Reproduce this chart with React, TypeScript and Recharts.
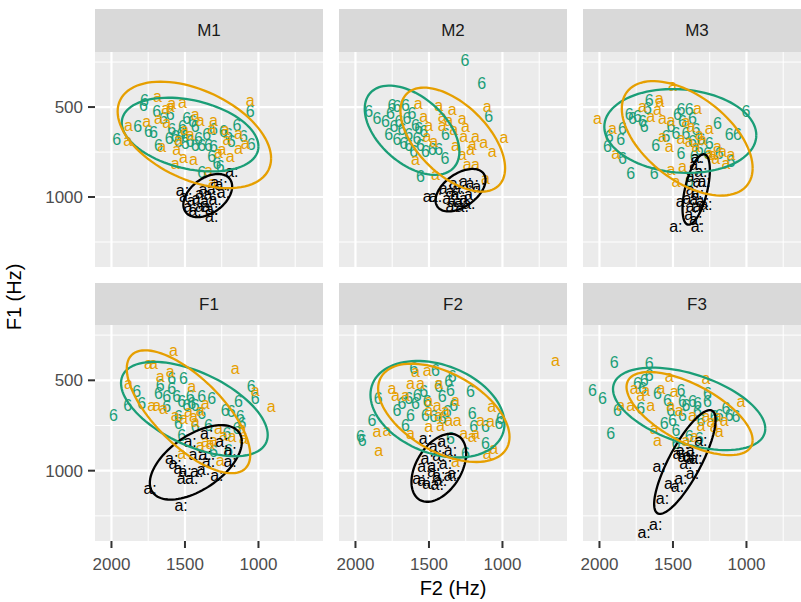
import { ScatterChart, Scatter, XAxis, YAxis, CartesianGrid } from 'recharts'

type Pair = [number, number]
// ellipse: centre F2, centre F1, half-width (Hz), half-height (Hz), tilt (F1 offset at lowest F2 / half-height)
type Ell = [number, number, number, number, number]

const F2_DOMAIN: [number, number] = [561, 2112]
const F1_DOMAIN: [number, number] = [194, 1389]
const F2_TICKS = [2000, 1500, 1000]
const F2_MINOR = [1750, 1250, 750]
const F1_TICKS = [500, 1000]
const F1_MINOR = [250, 750, 1250]

const VOWELS = ['6', 'a', 'a:']
const COLORS = ['#1B9E77', '#E69F00', '#000000']
const PANEL_NAMES = ['M1', 'M2', 'M3', 'F1', 'F2', 'F3']

const M1_6: Pair[] = [[1776,466],[1783,489],[1821,609],[1749,637],[1715,640],[1964,683],[1681,711],[1692,526],[1647,563],[1601,544],[1590,627],[1567,664],[1526,646],[1499,664],[1488,563],[1449,581],[1431,609],[1465,692],[1431,711],[1386,711],[1340,714],[1306,720],[1352,655],[1306,622],[1238,637],[1204,651],[1186,692],[1147,600],[1102,664],[1056,526],[1050,707],[1318,775],[1283,812],[1386,862],[1499,701],[1608,674],[1517,609],[1408,674],[1545,692],[1261,831]]
const M1_A: Pair[] = [[1688,442],[1590,479],[1517,474],[1056,461],[1885,600],[1890,688],[1760,581],[1681,566],[1631,507],[1624,585],[1556,738],[1510,781],[1442,794],[1567,812],[1306,572],[1431,544],[1318,618],[1227,622],[1136,646],[1136,733],[1193,775],[1249,738],[1658,720],[1465,655],[1545,683],[1272,751],[1091,701],[1340,855],[1313,918],[1601,498],[1397,572],[1215,683],[1504,627]]
const M1_AL: Pair[] = [[1517,966],[1495,997],[1465,1053],[1431,1077],[1386,1053],[1352,1025],[1329,988],[1363,960],[1306,960],[1283,918],[1254,933],[1181,859],[1318,1108],[1408,1006],[1340,1053],[1295,1016],[1386,979],[1442,1021],[1238,973],[1318,1071]]
const M1_ELL: Ell[] = [[1465,653,465,205,0.32],[1436,655,522,296,0.44],[1345,992,166,120,-0.42]]

const M2_6: Pair[] = [[1256,244],[1142,368],[1910,522],[1853,566],[1796,581],[1762,535],[1717,498],[1660,489],[1739,609],[1705,581],[1649,563],[1615,535],[1592,600],[1774,655],[1717,683],[1637,655],[1581,674],[1637,711],[1558,711],[1524,748],[1478,738],[1433,738],[1388,655],[1392,785],[1558,886],[1093,553],[1683,627],[1603,748],[1535,637],[1751,489],[1671,701],[1569,618]]
const M2_A: Pair[] = [[1574,479],[1535,553],[1501,600],[1433,489],[1410,553],[1342,516],[1274,563],[1251,609],[1331,627],[1410,600],[1104,498],[1183,664],[1127,696],[1070,748],[990,670],[1263,664],[1206,707],[1274,766],[1240,822],[1184,822],[1115,896],[1467,692],[1592,794],[1513,664],[1456,877],[1320,711],[1217,738],[1365,572]]
const M2_AL: Pair[] = [[1497,997],[1456,997],[1388,951],[1342,970],[1308,988],[1331,1025],[1285,1025],[1251,1007],[1217,988],[1251,914],[1206,923],[1161,942],[1320,923],[1274,1053],[1365,1007],[1297,951],[1229,1034],[1342,1053]]
const M2_ELL: Ell[] = [[1615,629,322,248,0.48],[1338,681,356,289,0.55],[1285,962,170,118,-0.48]]

const M3_6: Pair[] = [[1004,526],[1662,461],[1673,507],[1798,544],[1776,563],[1741,553],[1707,581],[1696,609],[1844,618],[1934,664],[1855,683],[1946,720],[1844,785],[1787,868],[1628,868],[1617,711],[1548,664],[1480,646],[1446,516],[1390,516],[1469,544],[1435,581],[1367,563],[1344,627],[1412,646],[1367,692],[1446,757],[1356,775],[1310,683],[1254,701],[1197,590],[1117,655],[1061,655],[1106,803],[1186,757],[1265,757],[1390,914],[1514,609],[1322,738]]
const M3_A: Pair[] = [[2014,563],[1912,618],[1889,757],[1594,451],[1589,470],[1503,378],[1707,498],[1651,553],[1605,516],[1571,563],[1514,572],[1333,507],[1412,581],[1378,609],[1254,618],[1571,664],[1526,720],[1446,674],[1390,692],[1344,720],[1299,683],[1254,757],[1197,720],[1163,747],[1106,766],[1209,785],[1514,849],[1480,914],[1435,831],[1140,812],[1322,655],[1231,766]]
const M3_AL: Pair[] = [[1333,781],[1344,822],[1310,859],[1367,886],[1322,914],[1288,914],[1367,960],[1333,979],[1390,1007],[1344,1016],[1299,1025],[1435,1025],[1367,1053],[1322,1053],[1378,1099],[1344,1127],[1480,1164],[1333,1164],[1276,1044]]
const M3_ELL: Ell[] = [[1450,633,517,233,0.1],[1403,674,445,318,0.52],[1342,958,93,196,-0.55]]

const F1_6: Pair[] = [[1987,693],[1890,637],[1828,564],[1794,628],[1669,527],[1681,573],[1624,591],[1590,490],[1590,545],[1510,490],[1556,591],[1522,619],[1465,591],[1454,628],[1386,591],[1318,601],[1545,702],[1545,739],[1488,637],[1431,637],[1386,683],[1227,665],[1186,671],[1136,619],[1125,702],[1113,739],[1050,536],[1022,601],[1431,757],[1522,803],[1215,794],[1204,886],[1306,895],[1624,647],[1340,748],[1147,766]]
const F1_A: Pair[] = [[1579,334],[1749,407],[1715,407],[1159,435],[1885,518],[1669,481],[1601,453],[1454,536],[1726,637],[1692,637],[1647,656],[1567,693],[1510,711],[1442,702],[1397,665],[1363,628],[1431,729],[1363,840],[1329,849],[1272,766],[1238,803],[1181,812],[1102,821],[1113,766],[1022,555],[914,647],[1397,858],[1261,941],[1522,904],[1306,831],[1476,674]]
const F1_AL: Pair[] = [[1737,1101],[1526,1193],[1590,932],[1567,959],[1533,987],[1499,1005],[1510,1042],[1454,1042],[1420,1005],[1374,996],[1283,1024],[1431,913],[1363,913],[1465,840],[1352,794],[1249,840],[1193,886],[1193,950],[1340,950]]
const F1_ELL: Ell[] = [[1436,659,499,261,0.55],[1476,674,420,340,0.7],[1426,954,313,206,-0.55]]

const F2_6: Pair[] = [[1966,813],[1955,831],[1887,721],[1846,601],[1717,665],[1683,629],[1660,748],[1637,601],[1592,629],[1580,583],[1603,435],[1535,564],[1512,619],[1456,445],[1433,537],[1410,592],[1365,509],[1342,481],[1354,555],[1331,638],[1467,702],[1376,675],[1217,564],[1206,684],[1195,757],[1115,757],[1115,849],[1013,711],[1024,739],[1354,822],[1251,905],[1410,711],[1524,693],[1626,693]]
const F2_A: Pair[] = [[639,389],[1842,886],[1853,785],[1785,776],[1751,546],[1728,583],[1660,583],[1626,518],[1592,454],[1512,445],[1558,518],[1501,610],[1501,665],[1444,638],[1433,693],[1388,665],[1319,610],[1308,721],[1501,757],[1422,748],[1626,794],[1263,794],[1206,813],[1183,794],[1149,721],[1081,730],[1074,647],[1104,905],[1059,877],[1319,951],[1433,518],[1365,721]]
const F2_AL: Pair[] = [[1524,822],[1512,932],[1535,978],[1467,969],[1467,1006],[1569,1043],[1535,1052],[1501,1070],[1444,1079],[1433,1024],[1354,1024],[1331,1015],[1399,840],[1354,886],[1433,914],[1456,868],[1388,960],[1422,1052]]
const F2_ELL: Ell[] = [[1442,660,456,267,0.3],[1399,680,447,272,0.49],[1433,984,186,188,-0.42]]

const F3_6: Pair[] = [[1900,399],[1662,408],[2048,555],[1980,601],[1878,665],[1923,794],[1719,656],[1741,518],[1707,546],[1696,500],[1662,472],[1560,739],[1537,610],[1515,665],[1503,721],[1480,776],[1446,555],[1435,619],[1412,638],[1367,619],[1333,629],[1333,675],[1265,573],[1265,619],[1435,693],[1310,721],[1219,702],[1140,656],[1117,693],[1072,702],[1390,813],[1322,822],[1480,849],[1605,573],[1185,693]]
const F3_A: Pair[] = [[1526,481],[1276,491],[1038,619],[1764,546],[1685,555],[1582,546],[1492,564],[1855,638],[1787,638],[1651,638],[1458,665],[1367,693],[1310,748],[1276,702],[1242,730],[1185,785],[1151,721],[1628,767],[1605,831],[1412,831],[1356,813],[1197,702],[1515,638],[1219,757],[1719,583]]
const F3_AL: Pair[] = [[1310,831],[1594,978],[1458,905],[1424,923],[1390,914],[1367,932],[1412,960],[1344,932],[1367,1015],[1446,1043],[1515,1070],[1469,1089],[1571,1153],[1617,1300],[1696,1343],[1367,886],[1435,886]]
const F3_ELL: Ell[] = [[1390,658,518,228,0.48],[1387,684,429,230,0.64],[1419,952,209,287,-0.81]]

const POINTS: Pair[][][] = [
  [M1_6, M1_A, M1_AL],
  [M2_6, M2_A, M2_AL],
  [M3_6, M3_A, M3_AL],
  [F1_6, F1_A, F1_AL],
  [F2_6, F2_A, F2_AL],
  [F3_6, F3_A, F3_AL],
]
const ELLIPSES: Ell[][] = [M1_ELL, M2_ELL, M3_ELL, F1_ELL, F2_ELL, F3_ELL]

// layout
const PANEL_X = [95, 339, 583]
const PANEL_Y = [52, 325]
const PANEL_H = [215, 216]
const STRIP_Y = [9, 283]
const PANEL_W = 228
const AXIS_W = 60
const AXIS_H = 40
const FONT = '"Liberation Sans", Arial, Helvetica, sans-serif'

const toXY = (pts: Pair[]) => pts.map(([x, y]) => ({ x, y }))

function ring(e: Ell) {
  const [cx, cy, hx, hy, k] = e
  const s = Math.sqrt(1 - k * k)
  return Array.from({ length: 97 }, (_, i) => {
    const t = (i / 96) * 2 * Math.PI
    return { x: cx - hx * Math.cos(t), y: cy + hy * (k * Math.cos(t) + s * Math.sin(t)) }
  })
}

const textShape = (label: string, color: string) => (p: any) => (
  <text x={p.cx} y={p.cy} textAnchor="middle" dominantBaseline="central" fontSize={16} fill={color}>
    {label}
  </text>
)

function Panel({ idx }: { idx: number }) {
  const col = idx % 3
  const row = Math.floor(idx / 3)
  const h = PANEL_H[row]
  const showY = col === 0
  const showX = row === 1
  const ellOrder = [2, 0, 1]
  return (
    <div style={{ position: 'absolute', left: PANEL_X[col] - AXIS_W, top: PANEL_Y[row] }}>
      <ScatterChart
        width={AXIS_W + PANEL_W}
        height={h + AXIS_H}
        margin={{ top: 0, right: 0, bottom: showX ? 0 : AXIS_H, left: showY ? 0 : AXIS_W }}
      >
        <CartesianGrid fill="#EBEBEB" stroke="#FFFFFF" strokeWidth={1} horizontalValues={F1_MINOR} verticalValues={F2_MINOR} />
        <CartesianGrid stroke="#FFFFFF" strokeWidth={2.2} horizontalValues={F1_TICKS} verticalValues={F2_TICKS} />
        <XAxis
          type="number" dataKey="x" domain={F2_DOMAIN} reversed allowDataOverflow ticks={F2_TICKS}
          hide={!showX} height={AXIS_H} axisLine={false}
          tickSize={7} tickMargin={10}
          tickLine={{ stroke: '#333333', strokeWidth: 2 }}
          tick={{ fontSize: 17, fill: '#4D4D4D' }}
        />
        <YAxis
          type="number" dataKey="y" domain={F1_DOMAIN} reversed allowDataOverflow ticks={F1_TICKS}
          hide={!showY} width={AXIS_W} axisLine={false}
          tickSize={7} tickMargin={5}
          tickLine={{ stroke: '#333333', strokeWidth: 2 }}
          tick={{ fontSize: 17, fill: '#4D4D4D' }}
        />
        {POINTS[idx].map((pts, v) => (
          <Scatter key={'p' + v} data={toXY(pts)} shape={textShape(VOWELS[v], COLORS[v])} isAnimationActive={false} />
        ))}
        {ellOrder.map((v) => (
          <Scatter
            key={'e' + v}
            data={ring(ELLIPSES[idx][v])}
            line={{ stroke: COLORS[v], strokeWidth: 2.3 }}
            lineType="joint"
            shape={() => <g />}
            isAnimationActive={false}
          />
        ))}
      </ScatterChart>
    </div>
  )
}

export default function App() {
  return (
    <div style={{ position: 'absolute', left: 0, top: 0, width: 801, height: 602, overflow: 'hidden', background: '#FFFFFF', fontFamily: FONT }}>
      <svg width={801} height={602} style={{ position: 'absolute', left: 0, top: 0 }}>
        {PANEL_NAMES.map((name, i) => {
          const col = i % 3
          const row = Math.floor(i / 3)
          const sh = PANEL_Y[row] - STRIP_Y[row]
          return (
            <g key={name}>
              <rect x={PANEL_X[col]} y={STRIP_Y[row]} width={PANEL_W} height={sh} fill="#D9D9D9" />
              <text x={PANEL_X[col] + PANEL_W / 2} y={STRIP_Y[row] + sh / 2} textAnchor="middle" dominantBaseline="central" fontSize={17} fill="#1A1A1A">
                {name}
              </text>
            </g>
          )
        })}
        <text x={453} y={595} textAnchor="middle" fontSize={20} fill="#000000">F2 (Hz)</text>
        <text transform="translate(21,297) rotate(-90)" textAnchor="middle" fontSize={20} fill="#000000">F1 (Hz)</text>
      </svg>
      {PANEL_NAMES.map((_, i) => (
        <Panel key={i} idx={i} />
      ))}
    </div>
  )
}
